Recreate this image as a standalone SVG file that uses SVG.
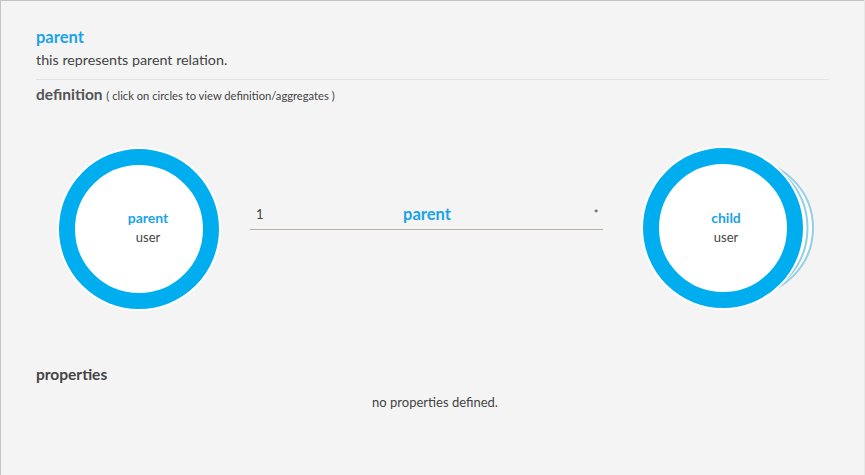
<svg xmlns="http://www.w3.org/2000/svg" width="865" height="475" viewBox="0 0 865 475">
<style>
text{font-family:Lato,"Open Sans","Liberation Sans",sans-serif}
.blue{fill:#1aa3e8;font-weight:bold}
.dark{fill:#444}
.ring{fill:#fff;stroke:#00aeef;stroke-width:16}
.halo{fill:#fff}
.stack{fill:#fff;stroke:#93cfe5;stroke-width:2}
</style>
<rect x="0" y="0" width="865" height="475" fill="#f4f4f4"/>
<line x1="0" y1="0.5" x2="865" y2="0.5" stroke="#c4c4c4"/>
<line x1="0.5" y1="0" x2="0.5" y2="475" stroke="#c4c4c4"/>
<line x1="864.5" y1="0" x2="864.5" y2="475" stroke="#e8e8e8"/>
<g id="header">
<text x="36" y="43" class="blue" font-size="16.5">parent</text>
<text x="36" y="65" class="dark" font-size="14.3">this represents parent relation.</text>
<line x1="36" y1="79.5" x2="829" y2="79.5" stroke="#e3e3e3"/>
<text x="36" y="100" fill="#555" font-size="15.5" font-weight="bold">definition <tspan font-size="11.2" font-weight="normal" fill="#444">( click on circles to view definition/aggregates )</tspan></text>
</g>
<g id="connectors">
<line x1="250" y1="229.5" x2="603" y2="229.5" stroke="#b9b0a2" stroke-width="1"/>
<text x="256" y="219" class="dark" font-size="13">1</text>
<text x="427" y="220" class="blue" font-size="16.5" text-anchor="middle">parent</text>
<text x="596" y="218" class="dark" font-size="11" text-anchor="middle">*</text>
</g>
<g id="node-parent">
<circle cx="139" cy="229" r="82" class="halo"/>
<circle cx="139" cy="229" r="72" class="ring"/>
<text x="148" y="223" class="blue" font-size="14" text-anchor="middle">parent</text>
<text x="148" y="242" class="dark" font-size="13" text-anchor="middle">user</text>
</g>
<g id="node-child">
<circle cx="745" cy="228" r="68" class="stack"/>
<circle cx="735" cy="228" r="72.5" class="stack"/>
<circle cx="723" cy="228" r="82" class="halo"/>
<circle cx="723" cy="228" r="72" class="ring"/>
<text x="726" y="223" class="blue" font-size="14" text-anchor="middle">child</text>
<text x="726" y="242" class="dark" font-size="13" text-anchor="middle">user</text>
</g>
<g id="properties">
<text x="36" y="380" font-size="15.5" font-weight="bold" fill="#444">properties</text>
<text x="435" y="407" class="dark" font-size="13" text-anchor="middle">no properties defined.</text>
</g>
</svg>
